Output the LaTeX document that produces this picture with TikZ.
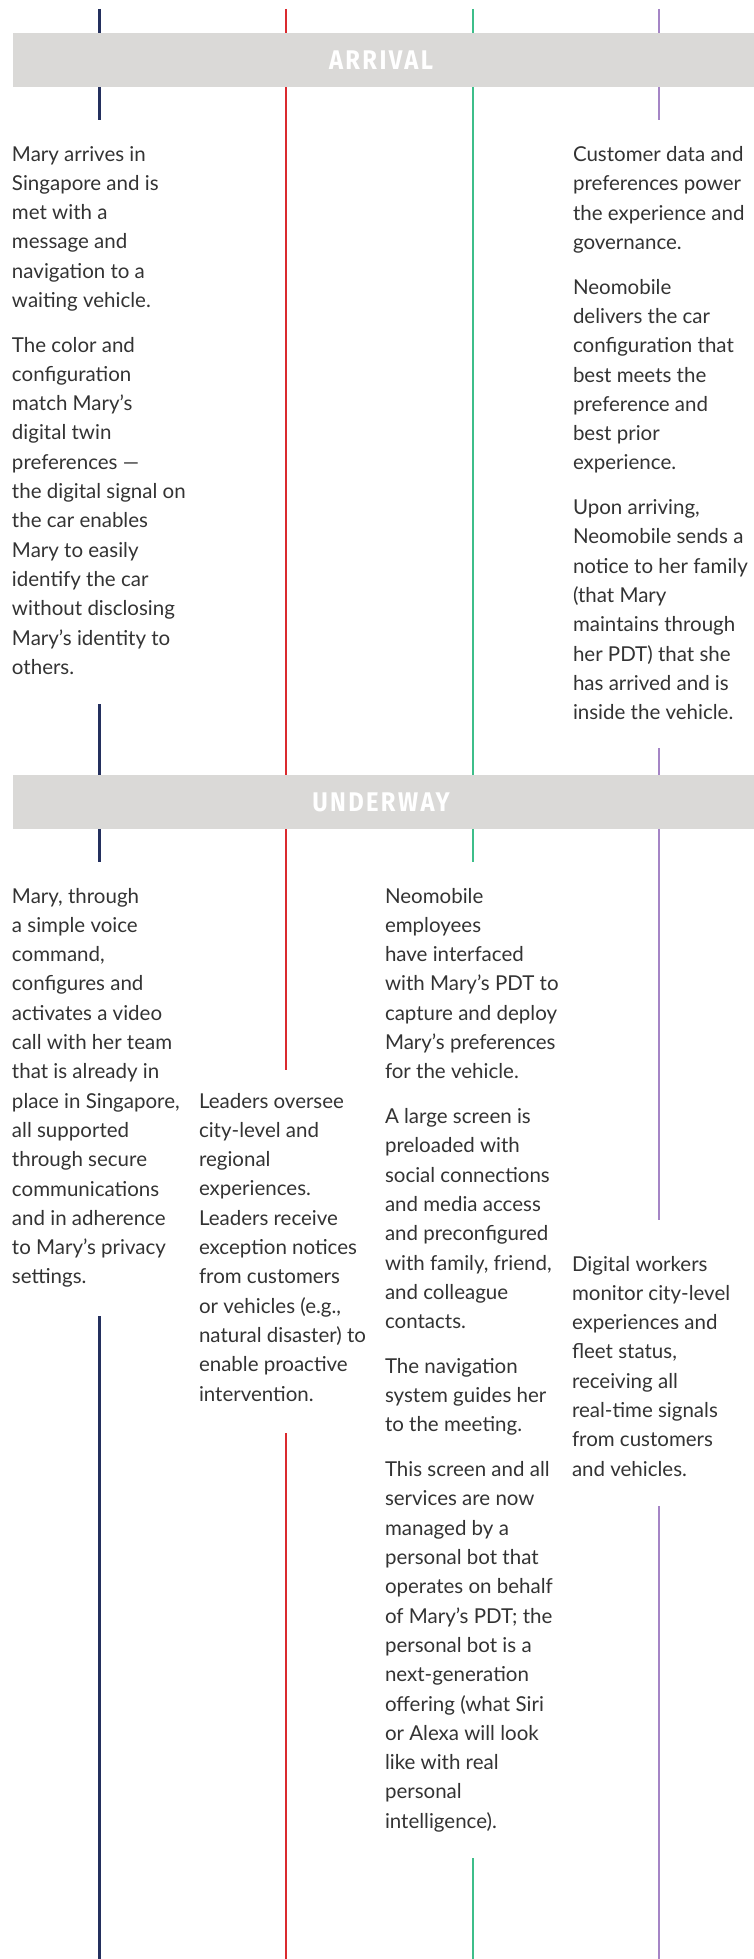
\documentclass[tikz,border=0pt]{standalone}
\usepackage{fontspec}
\usepackage{graphicx}
\setmainfont{Lato}
\newfontfamily\bandfont{Fira Sans}[LetterSpace=10]
\definecolor{txt}{HTML}{333333}
\definecolor{bandgray}{HTML}{DAD9D7}
\definecolor{navy}{HTML}{24305E}
\definecolor{lred}{HTML}{DA2A2F}
\definecolor{lgreen}{HTML}{3EBE8A}
\definecolor{lpurple}{HTML}{A585C6}
\newcommand\bandtext[1]{\scalebox{0.88}[1]{#1}}
\begin{document}
\begin{tikzpicture}[x=1pt,y=-1pt,
  para/.style={anchor=base west, inner sep=0pt, outer sep=0pt, text=txt,
    font=\fontsize{20.5}{29.3}\selectfont},
  bandbox/.style={fill=bandgray, draw=none},
  bandlabel/.style={text=white, inner sep=0pt, font=\bandfont\bfseries\fontsize{27}{27}\selectfont},
  lane/.style={line width=2.2pt}]
\useasboundingbox (0,0) rectangle (754,1959);
% lanes
\draw[lane, navy]    (99.5,9) -- (99.5,33)  (99.5,87) -- (99.5,120) (99.5,704) -- (99.5,775) (99.5,829) -- (99.5,862) (99.5,1316) -- (99.5,1959);
\draw[lane, lred]    (286.3,9) -- (286.3,33) (286.3,87) -- (286.3,775) (286.3,829) -- (286.3,1070) (286.3,1433) -- (286.3,1959);
\draw[lane, lgreen]  (472.7,9) -- (472.7,33) (472.7,87) -- (472.7,775) (472.7,829) -- (472.7,862) (472.7,1858) -- (472.7,1959);
\draw[lane, lpurple] (659.3,9) -- (659.3,33) (659.3,87) -- (659.3,120) (659.3,748) -- (659.3,775) (659.3,829) -- (659.3,1220) (659.3,1506) -- (659.3,1959);
% bands
\fill[bandbox] (13,33) rectangle (754,87);
\fill[bandbox] (13,775) rectangle (754,829);
\node[bandlabel] (arrival) at (381,60) {\bandtext{ARRIVAL}};
\node[bandlabel] (underway) at (381,802) {\bandtext{UNDERWAY}};
% ARRIVAL texts
\node[para] (a1p1) at (12,161) {\begin{tabular}[t]{@{}l@{}}Mary arrives in\\Singapore and is\\met with a\\message and\\navigation to a\\waiting vehicle.\end{tabular}};
\node[para] (a1p2) at (12,352) {\begin{tabular}[t]{@{}l@{}}The color and\\configuration\\match Mary’s\\digital twin\\preferences —\\the digital signal on\\the car enables\\Mary to easily\\identify the car\\without disclosing\\Mary’s identity to\\others.\end{tabular}};
\node[para] (a4p1) at (573,161.5) {\begin{tabular}[t]{@{}l@{}}Customer data and\\preferences power\\the experience and\\governance.\end{tabular}};
\node[para] (a4p2) at (573,294.1) {\begin{tabular}[t]{@{}l@{}}Neomobile\\delivers the car\\configuration that\\best meets the\\preference and\\best prior\\experience.\end{tabular}};
\node[para] (a4p3) at (573,514.6) {\begin{tabular}[t]{@{}l@{}}Upon arriving,\\Neomobile sends a\\notice to her family\\(that Mary\\maintains through\\her PDT) that she\\has arrived and is\\inside the vehicle.\end{tabular}};
% UNDERWAY texts
\node[para] (u1p1) at (12,903) {\begin{tabular}[t]{@{}l@{}}Mary, through\\a simple voice\\command,\\configures and\\activates a video\\call with her team\\that is already in\\place in Singapore,\\all supported\\through secure\\communications\\and in adherence\\to Mary’s privacy\\settings.\end{tabular}};
\node[para] (u2p1) at (199,1108) {\begin{tabular}[t]{@{}l@{}}Leaders oversee\\city-level and\\regional\\experiences.\\Leaders receive\\exception notices\\from customers\\or vehicles (e.g.,\\natural disaster) to\\enable proactive\\intervention.\end{tabular}};
\node[para] (u3p1) at (385,903) {\begin{tabular}[t]{@{}l@{}}Neomobile\\employees\\have interfaced\\with Mary’s PDT to\\capture and deploy\\Mary’s preferences\\for the vehicle.\end{tabular}};
\node[para] (u3p2) at (385,1123.5) {\begin{tabular}[t]{@{}l@{}}A large screen is\\preloaded with\\social connections\\and media access\\and preconfigured\\with family, friend,\\and colleague\\contacts.\end{tabular}};
\node[para] (u3p3) at (385,1373.3) {\begin{tabular}[t]{@{}l@{}}The navigation\\system guides her\\to the meeting.\end{tabular}};
\node[para] (u3p4) at (385,1476.6) {\begin{tabular}[t]{@{}l@{}}This screen and all\\services are now\\managed by a\\personal bot that\\operates on behalf\\of Mary’s PDT; the\\personal bot is a\\next-generation\\offering (what Siri\\or Alexa will look\\like with real\\personal\\intelligence).\end{tabular}};
\node[para] (u4p1) at (572,1271) {\begin{tabular}[t]{@{}l@{}}Digital workers\\monitor city-level\\experiences and\\fleet status,\\receiving all\\real-time signals\\from customers\\and vehicles.\end{tabular}};
\end{tikzpicture}
\end{document}
